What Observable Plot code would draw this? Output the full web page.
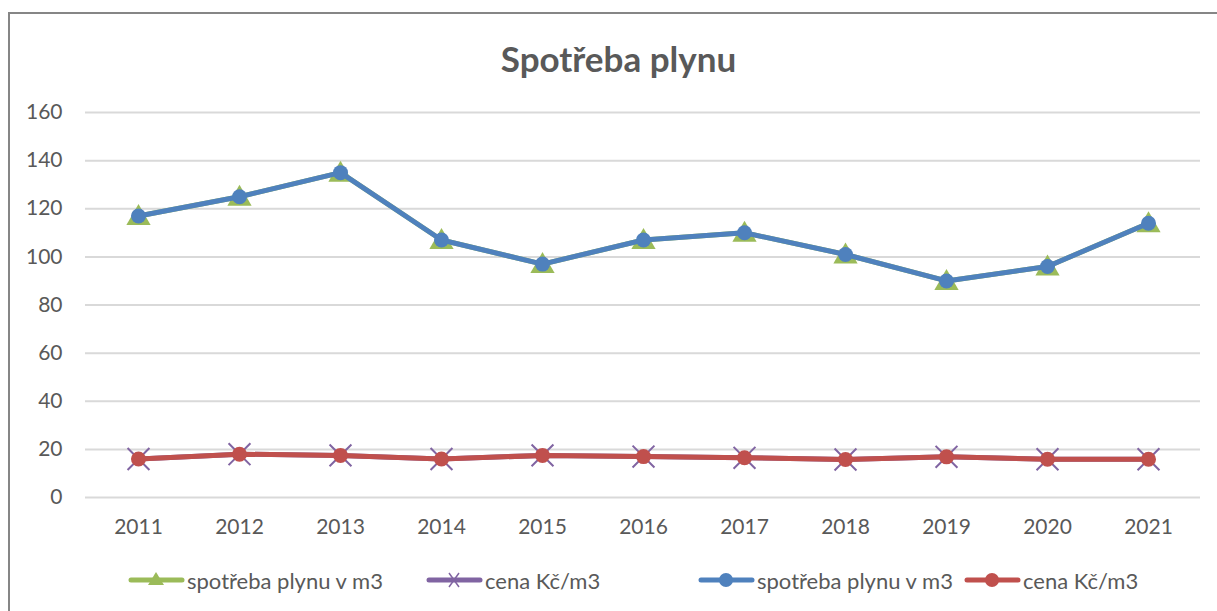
<!DOCTYPE html>
<html>
<head>
<meta charset="utf-8">
<script src="https://cdn.jsdelivr.net/npm/d3@7"></script>
<script src="https://cdn.jsdelivr.net/npm/@observablehq/plot@0.6"></script>
<style>
  html, body { margin: 0; padding: 0; background: #fff; overflow: hidden; }
  body { width: 1217px; height: 611px; position: relative; font-family: Lato, "Open Sans", sans-serif; }
  #frame { position: absolute; left: 8px; top: 12px; width: 1220px; height: 610px; border-left: 2px solid #868686; border-top: 2px solid #868686; box-sizing: border-box; }
  #title { position: absolute; left: 0; top: 36px; width: 1237px; text-align: center; font-size: 35px; font-weight: bold; color: #595959; line-height: 44px; }
  #chart { position: absolute; left: 0; top: 90px; }
  #legend { position: absolute; left: 0; top: 568px; width: 1217px; height: 24px; font-size: 22px; color: #595959; }
  .item { position: absolute; top: 0; display: flex; align-items: center; height: 24px; }
  .item svg { margin-right: 2px; }
</style>
</head>
<body>
<div id="frame"></div>
<div id="title">Spotřeba plynu</div>
<div id="chart"></div>
<div id="legend"></div>
<script>
const years = ["2011","2012","2013","2014","2015","2016","2017","2018","2019","2020","2021"];
const consumption = [117, 125, 135, 107, 97, 107, 110, 101, 90, 96, 114];
const price = [16, 18, 17.5, 16, 17.5, 17, 16.5, 15.8, 16.9, 15.9, 15.9];
const yTicks = [0, 20, 40, 60, 80, 100, 120, 140, 160];
const seriesNames = ["spotřeba plynu v m3", "cena Kč/m3", "spotřeba plynu v m3", "cena Kč/m3"];
const seriesColors = ["#9bbb59", "#8064a2", "#4f81bd", "#c0504d"];

const consRows = years.map((y, i) => ({year: y, value: consumption[i]}));
const priceRows = years.map((y, i) => ({year: y, value: price[i]}));

const chart = Plot.plot({
  width: 1217,
  height: 460,
  marginLeft: 85,
  marginRight: 17,
  marginTop: 22,
  marginBottom: 53,
  style: { fontFamily: "Lato, 'Open Sans', sans-serif", fontSize: "21px", color: "#595959", background: "transparent", overflow: "visible" },
  x: { type: "point", domain: years, padding: 0.5, label: null },
  y: { domain: [0, 160], ticks: yTicks, label: null },
  marks: [
    Plot.gridY(yTicks, { stroke: "#d9d9d9", strokeOpacity: 1, strokeWidth: 2 }),
    Plot.axisY(yTicks, { tickSize: 0, tickPadding: 23, fontSize: 21, fill: "#595959" }),
    Plot.axisX({ tickSize: 0, tickPadding: 22, fontSize: 21, fill: "#595959" }),
    // series 1 (green, triangle) - same data as blue
    Plot.line(consRows, { x: "year", y: "value", stroke: seriesColors[0], strokeWidth: 5 }),
    Plot.dot(consRows, { x: "year", y: "value", symbol: "triangle", r: 9, dy: 2, fill: seriesColors[0], stroke: "none" }),
    // series 2 (purple, x)
    Plot.line(priceRows, { x: "year", y: "value", stroke: seriesColors[1], strokeWidth: 5 }),
    Plot.dot(priceRows, { x: "year", y: "value", symbol: "times", r: 10, stroke: seriesColors[1], strokeWidth: 2 }),
    // series 3 (blue, circle)
    Plot.line(consRows, { x: "year", y: "value", stroke: seriesColors[2], strokeWidth: 5 }),
    Plot.dot(consRows, { x: "year", y: "value", r: 7.5, fill: seriesColors[2], stroke: "none" }),
    // series 4 (red, circle)
    Plot.line(priceRows, { x: "year", y: "value", stroke: seriesColors[3], strokeWidth: 5 }),
    Plot.dot(priceRows, { x: "year", y: "value", r: 7.5, fill: seriesColors[3], stroke: "none" })
  ]
});
document.getElementById("chart").appendChild(chart);

// legend
const legendX = [128, 426, 698, 964];
const symbols = ["triangle", "times", "circle", "circle"];
const legend = document.getElementById("legend");
seriesNames.forEach((name, i) => {
  const div = document.createElement("div");
  div.className = "item";
  div.style.left = legendX[i] + "px";
  const c = seriesColors[i];
  let sym = "";
  if (symbols[i] === "triangle") sym = `<path d="M28,4 L36,17 L20,17 Z" fill="${c}"/>`;
  else if (symbols[i] === "times") sym = `<path d="M23,5 L33,19 M33,5 L23,19" stroke="${c}" stroke-width="1.5"/>`;
  else sym = `<circle cx="28" cy="12" r="7" fill="${c}"/>`;
  div.innerHTML = `<svg width="57" height="24"><line x1="3" y1="12" x2="54" y2="12" stroke="${c}" stroke-width="5" stroke-linecap="round"/>${sym}</svg><span>${name}</span>`;
  legend.appendChild(div);
});
</script>
</body>
</html>
